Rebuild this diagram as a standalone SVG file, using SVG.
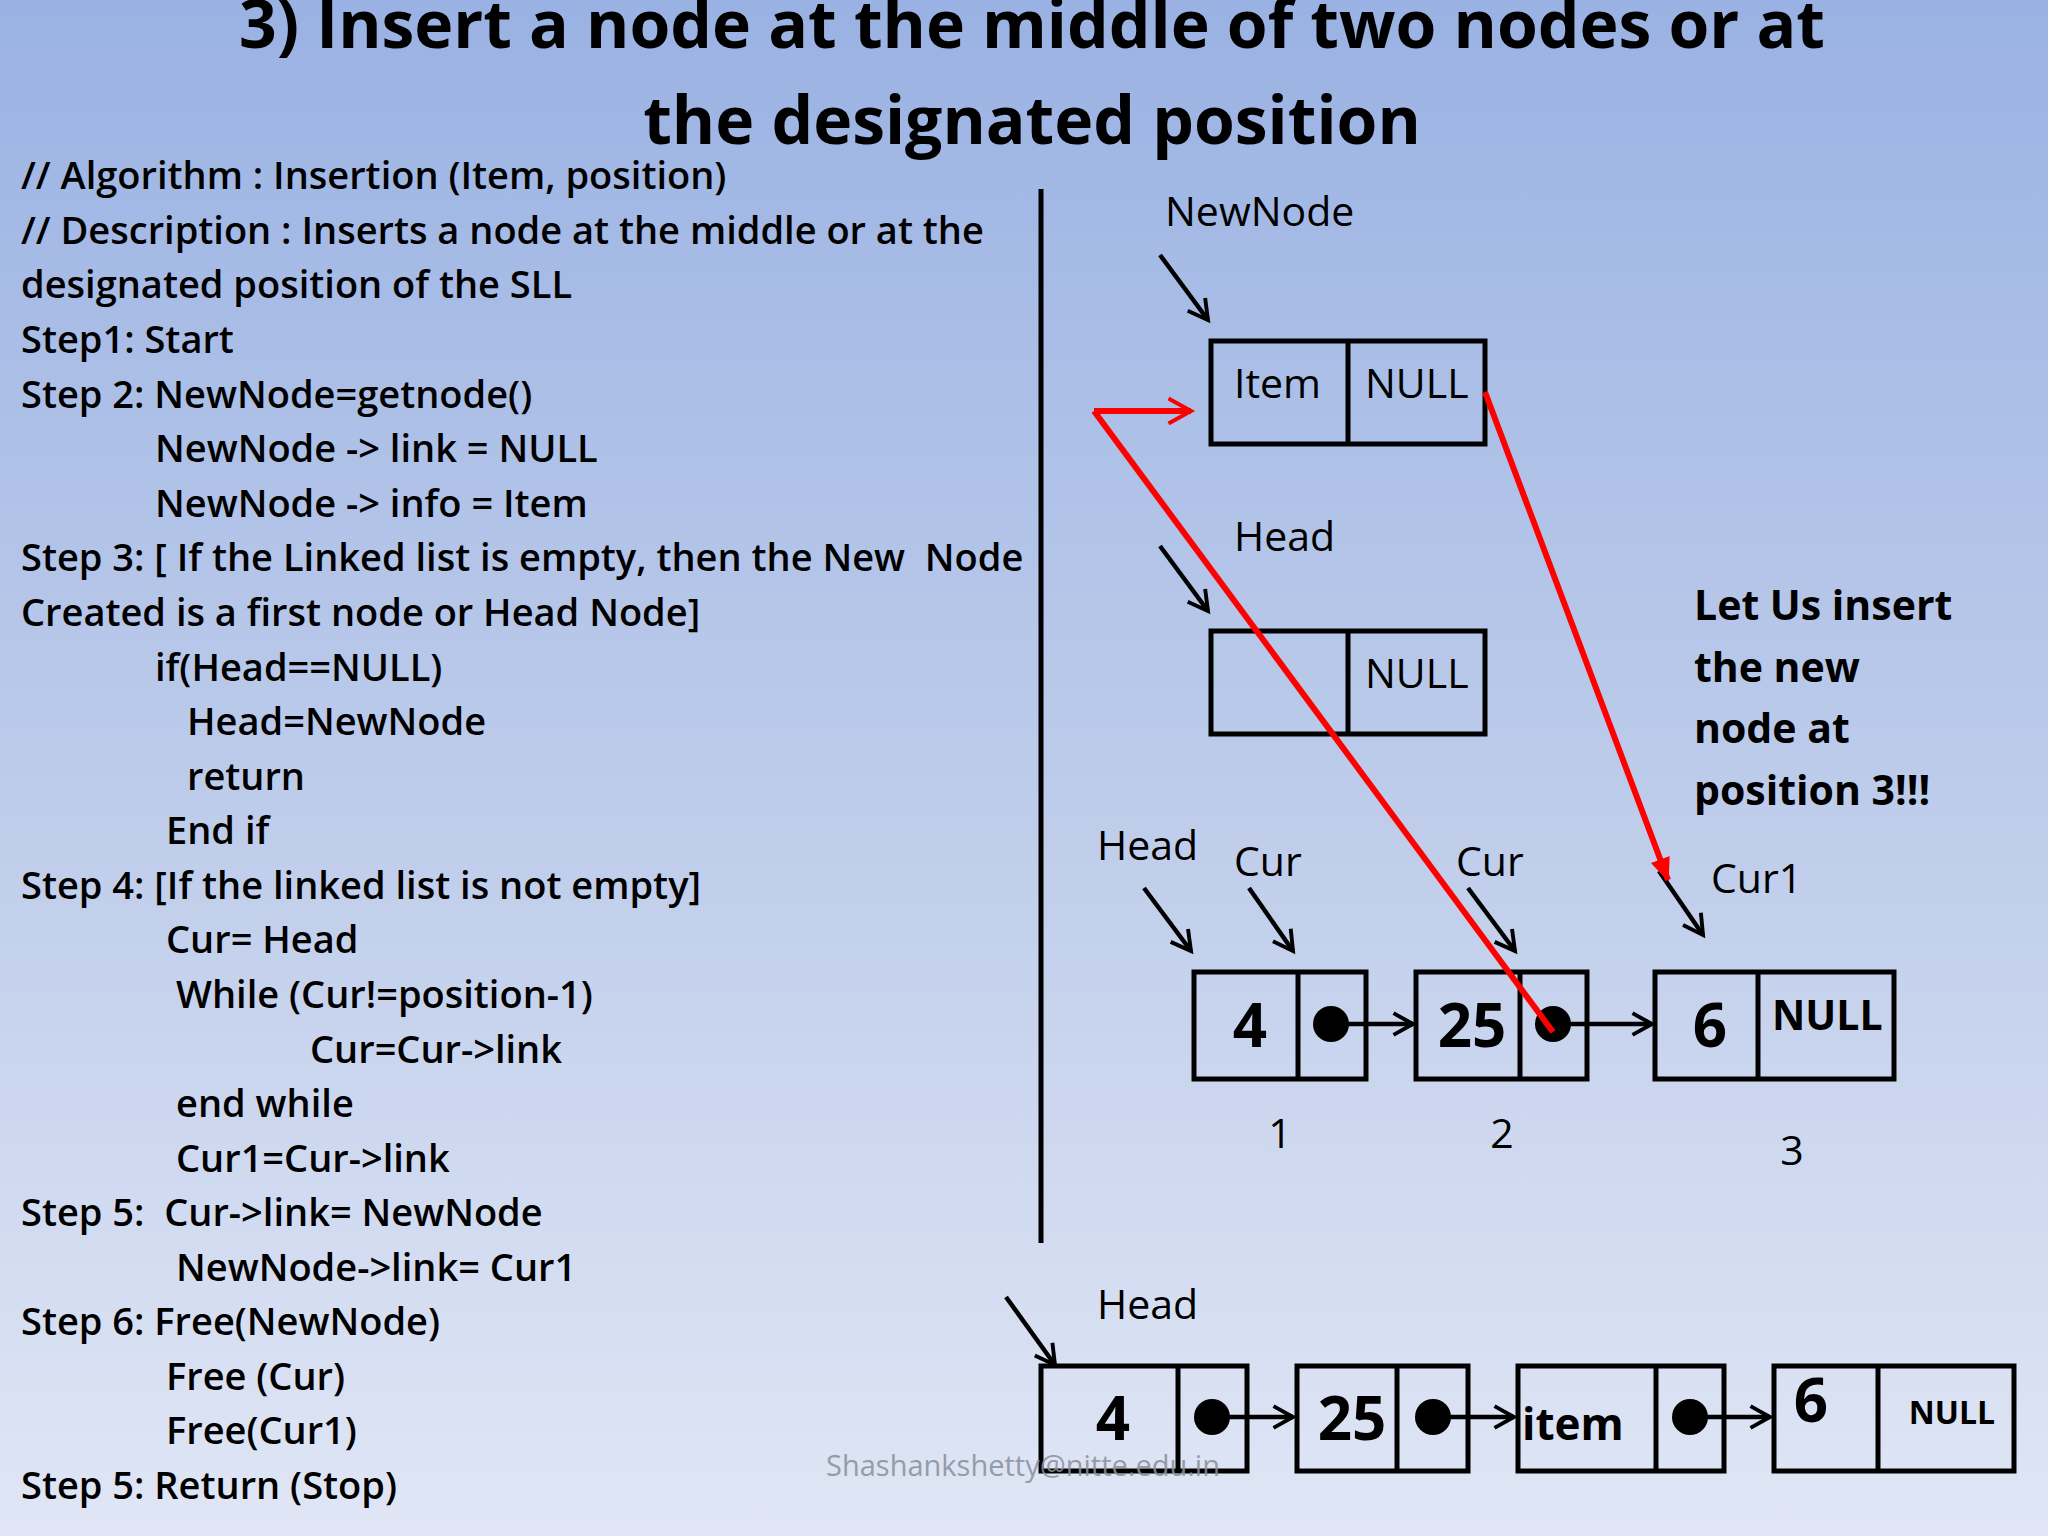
<svg xmlns="http://www.w3.org/2000/svg" width="2048" height="1536" viewBox="0 0 2048 1536">
<defs>
<linearGradient id="bg" x1="0" y1="0" x2="0" y2="1"><stop offset="0" stop-color="#9ab2e3"/><stop offset="0.5" stop-color="#bccbea"/><stop offset="1" stop-color="#e0e6f5"/></linearGradient>
<marker id="ah2" viewBox="0 0 12 12" refX="10" refY="6" markerWidth="26" markerHeight="26" markerUnits="userSpaceOnUse" orient="auto"><path d="M1,1 L10,6 L1,11" fill="none" stroke="#000" stroke-width="1.8"/></marker>
<marker id="rh" viewBox="0 0 12 12" refX="10" refY="6" markerWidth="30" markerHeight="30" markerUnits="userSpaceOnUse" orient="auto"><path d="M1,1 L10,6 L1,11" fill="none" stroke="#f00" stroke-width="1.6"/></marker>
<marker id="rt" viewBox="0 0 12 12" refX="11" refY="6" markerWidth="24" markerHeight="24" markerUnits="userSpaceOnUse" orient="auto"><path d="M0,1 L12,6 L0,11 z" fill="#f00"/></marker>
</defs>
<style>
.t{font-family:"Open Sans",sans-serif;font-weight:600;font-size:38px;fill:#000}
.h{font-family:"Open Sans",sans-serif;font-weight:bold;font-size:66px;fill:#000}
.l{font-family:"Open Sans",sans-serif;font-size:41px;fill:#000}
.b{fill:none;stroke:#000;stroke-width:5}
.n{font-family:"Open Sans",sans-serif;font-weight:bold;font-size:60px;fill:#000;text-anchor:middle}
.s{font-family:"Open Sans",sans-serif;font-weight:bold;font-size:41px;fill:#000}
.p{stroke:#000;stroke-width:4.5;fill:none}
.r{stroke:#f00;stroke-width:6;fill:none}
</style>
<rect width="2048" height="1536" fill="url(#bg)"/>
<text class="h" x="1032" y="48" text-anchor="middle">3) Insert a node at the middle of two nodes or at</text>
<text class="h" x="1032" y="144" text-anchor="middle">the designated position</text>
<g id="algorithm" class="t">
<text x="21" y="189">// Algorithm : Insertion (Item, position)</text>
<text x="21" y="244">// Description : Inserts a node at the middle or at the</text>
<text x="21" y="298">designated position of the SLL</text>
<text x="21" y="353">Step1: Start</text>
<text x="21" y="408">Step 2: NewNode=getnode()</text>
<text x="155" y="462">NewNode -&gt; link = NULL</text>
<text x="155" y="517">NewNode -&gt; info = Item</text>
<text x="21" y="571" xml:space="preserve">Step 3: [ If the Linked list is empty, then the New  Node</text>
<text x="21" y="626">Created is a first node or Head Node]</text>
<text x="155" y="681">if(Head==NULL)</text>
<text x="187" y="735">Head=NewNode</text>
<text x="187" y="790">return</text>
<text x="166" y="844">End if</text>
<text x="21" y="899">Step 4: [If the linked list is not empty]</text>
<text x="166" y="953">Cur= Head</text>
<text x="176" y="1008">While (Cur!=position-1)</text>
<text x="310" y="1063">Cur=Cur-&gt;link</text>
<text x="176" y="1117">end while</text>
<text x="176" y="1172">Cur1=Cur-&gt;link</text>
<text x="21" y="1226" xml:space="preserve">Step 5:  Cur-&gt;link= NewNode</text>
<text x="176" y="1281">NewNode-&gt;link= Cur1</text>
<text x="21" y="1335">Step 6: Free(NewNode)</text>
<text x="166" y="1390">Free (Cur)</text>
<text x="166" y="1444">Free(Cur1)</text>
<text x="21" y="1499">Step 5: Return (Stop)</text>
</g>
<line x1="1041" y1="189" x2="1041" y2="1243" stroke="#000" stroke-width="5"/>
<g id="newnode">
<text class="l" x="1165" y="226">NewNode</text>
<rect class="b" x="1211" y="341" width="274" height="103"/><line class="b" x1="1348" y1="341" x2="1348" y2="444"/>
<text class="l" x="1234" y="398">Item</text><text class="l" x="1365" y="398">NULL</text>
</g>
<g id="headnull">
<text class="l" x="1234" y="551">Head</text>
<rect class="b" x="1211" y="631" width="274" height="103"/><line class="b" x1="1348" y1="631" x2="1348" y2="734"/>
<text class="l" x="1365" y="688">NULL</text>
</g>
<g id="note" class="s">
<text x="1694" y="620">Let Us insert</text>
<text x="1694" y="682">the new</text>
<text x="1694" y="743">node at</text>
<text x="1694" y="805">position 3!!!</text>
</g>
<g id="list1">
<text class="l" x="1097" y="860">Head</text>
<text class="l" x="1234" y="876">Cur</text>
<text class="l" x="1456" y="876">Cur</text>
<text class="l" x="1711" y="893">Cur1</text>
<rect class="b" x="1194" y="972" width="172" height="107"/><line class="b" x1="1298" y1="972" x2="1298" y2="1079"/>
<text class="n" x="1250" y="1047">4</text><circle cx="1331" cy="1024" r="18"/>
<rect class="b" x="1416" y="972" width="171" height="107"/><line class="b" x1="1520" y1="972" x2="1520" y2="1079"/>
<text class="n" x="1472" y="1047">25</text><circle cx="1553" cy="1024" r="18"/>
<rect class="b" x="1655" y="972" width="239" height="107"/><line class="b" x1="1758" y1="972" x2="1758" y2="1079"/>
<text class="n" x="1710" y="1047">6</text><text class="s" x="1772" y="1030">NULL</text>
<text class="l" x="1280" y="1148" text-anchor="middle">1</text>
<text class="l" x="1502" y="1148" text-anchor="middle">2</text>
<text class="l" x="1792" y="1165" text-anchor="middle">3</text>
</g>
<g id="list2">
<text class="l" x="1097" y="1319">Head</text>
<rect class="b" x="1041" y="1366" width="206" height="105"/><line class="b" x1="1178" y1="1366" x2="1178" y2="1471"/>
<text class="n" x="1113" y="1440">4</text><circle cx="1212" cy="1417" r="18"/>
<rect class="b" x="1297" y="1366" width="171" height="105"/><line class="b" x1="1397" y1="1366" x2="1397" y2="1471"/>
<text class="n" x="1352" y="1440">25</text><circle cx="1433" cy="1417" r="18"/>
<rect class="b" x="1518" y="1366" width="206" height="105"/><line class="b" x1="1656" y1="1366" x2="1656" y2="1471"/>
<text class="s" x="1522" y="1440" style="font-size:44px">item</text><circle cx="1690" cy="1417" r="18"/>
<rect class="b" x="1774" y="1366" width="240" height="105"/><line class="b" x1="1878" y1="1366" x2="1878" y2="1471"/>
<text class="n" x="1811" y="1422">6</text><text class="s" x="1952" y="1424" text-anchor="middle" style="font-size:32px">NULL</text>
</g>
<g id="connectors">
<line class="p" x1="1160" y1="255" x2="1208" y2="320" marker-end="url(#ah2)"/>
<line class="p" x1="1160" y1="546" x2="1208" y2="611" marker-end="url(#ah2)"/>
<line class="p" x1="1144" y1="888" x2="1191" y2="951" marker-end="url(#ah2)"/>
<line class="p" x1="1249" y1="888" x2="1293" y2="951" marker-end="url(#ah2)"/>
<line class="p" x1="1468" y1="888" x2="1515" y2="951" marker-end="url(#ah2)"/>
<line class="p" x1="1659" y1="871" x2="1703" y2="935" marker-end="url(#ah2)"/>
<line class="p" x1="1006" y1="1297" x2="1055" y2="1365" marker-end="url(#ah2)"/>
<line class="p" x1="1340" y1="1024" x2="1413" y2="1024" marker-end="url(#ah2)"/>
<line class="p" x1="1562" y1="1024" x2="1652" y2="1024" marker-end="url(#ah2)"/>
<line class="p" x1="1222" y1="1417" x2="1293" y2="1417" marker-end="url(#ah2)"/>
<line class="p" x1="1443" y1="1417" x2="1514" y2="1417" marker-end="url(#ah2)"/>
<line class="p" x1="1700" y1="1417" x2="1770" y2="1417" marker-end="url(#ah2)"/>
<line class="r" x1="1094" y1="411" x2="1191" y2="411" marker-end="url(#rh)"/>
<line class="r" x1="1094" y1="411" x2="1553" y2="1032"/>
<line class="r" x1="1485" y1="392" x2="1668" y2="880" marker-end="url(#rt)"/>
</g>
<text x="1023" y="1476" text-anchor="middle" font-family="'Open Sans',sans-serif" font-size="29" fill="#8a8f99" opacity="0.85">Shashankshetty@nitte.edu.in</text>
</svg>
